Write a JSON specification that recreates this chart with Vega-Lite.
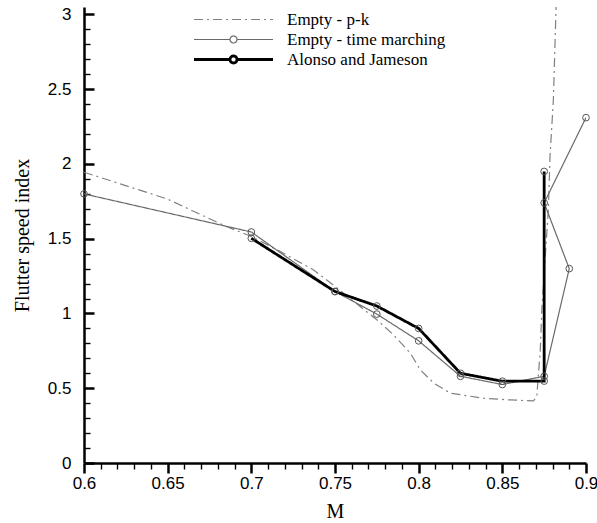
{
  "$schema": "https://vega.github.io/schema/vega-lite/v6.json",
  "autosize": {"type": "none"},
  "padding": {"left": 84, "top": 7, "right": 11, "bottom": 60},
  "width": 502,
  "height": 456,
  "background": "white",
  "config": {
    "view": {"stroke": null},
    "axis": {
      "domainColor": "black",
      "domainWidth": 2.5,
      "tickColor": "black",
      "labelFont": "Liberation Sans",
      "labelFontSize": 17,
      "labelColor": "black",
      "titleFont": "Liberation Serif",
      "titleFontSize": 20,
      "titleFontWeight": "normal",
      "titleColor": "black",
      "grid": false,
      "labelOverlap": false,
      "labelFlush": false,
      "format": "~g"
    }
  },
  "data": {
    "values": [
      {"s": "Empty - p-k", "i": 1, "M": 0.6, "v": 1.945},
      {"s": "Empty - p-k", "i": 2, "M": 0.65, "v": 1.765},
      {"s": "Empty - p-k", "i": 3, "M": 0.684, "v": 1.587},
      {"s": "Empty - p-k", "i": 4, "M": 0.7, "v": 1.515},
      {"s": "Empty - p-k", "i": 5, "M": 0.719, "v": 1.404},
      {"s": "Empty - p-k", "i": 6, "M": 0.737, "v": 1.293},
      {"s": "Empty - p-k", "i": 7, "M": 0.75, "v": 1.181},
      {"s": "Empty - p-k", "i": 8, "M": 0.765, "v": 1.047},
      {"s": "Empty - p-k", "i": 9, "M": 0.775, "v": 0.958},
      {"s": "Empty - p-k", "i": 10, "M": 0.785, "v": 0.857},
      {"s": "Empty - p-k", "i": 11, "M": 0.795, "v": 0.735},
      {"s": "Empty - p-k", "i": 12, "M": 0.801, "v": 0.623},
      {"s": "Empty - p-k", "i": 13, "M": 0.809, "v": 0.534},
      {"s": "Empty - p-k", "i": 14, "M": 0.819, "v": 0.467},
      {"s": "Empty - p-k", "i": 15, "M": 0.8387, "v": 0.433},
      {"s": "Empty - p-k", "i": 16, "M": 0.8546, "v": 0.422},
      {"s": "Empty - p-k", "i": 17, "M": 0.8686, "v": 0.415},
      {"s": "Empty - p-k", "i": 18, "M": 0.8706, "v": 0.444},
      {"s": "Empty - p-k", "i": 19, "M": 0.8716, "v": 0.6},
      {"s": "Empty - p-k", "i": 20, "M": 0.8726, "v": 0.735},
      {"s": "Empty - p-k", "i": 21, "M": 0.8736, "v": 1.025},
      {"s": "Empty - p-k", "i": 22, "M": 0.8775, "v": 1.695},
      {"s": "Empty - p-k", "i": 23, "M": 0.8785, "v": 2.05},
      {"s": "Empty - p-k", "i": 24, "M": 0.8805, "v": 2.43},
      {"s": "Empty - p-k", "i": 25, "M": 0.8822, "v": 3.08},
      {"s": "Empty - time marching", "i": 1, "M": 0.6, "v": 1.8},
      {"s": "Empty - time marching", "i": 2, "M": 0.7, "v": 1.545},
      {"s": "Empty - time marching", "i": 3, "M": 0.75, "v": 1.147},
      {"s": "Empty - time marching", "i": 4, "M": 0.775, "v": 0.996},
      {"s": "Empty - time marching", "i": 5, "M": 0.8, "v": 0.817},
      {"s": "Empty - time marching", "i": 6, "M": 0.825, "v": 0.58},
      {"s": "Empty - time marching", "i": 7, "M": 0.85, "v": 0.525},
      {"s": "Empty - time marching", "i": 8, "M": 0.875, "v": 0.58},
      {"s": "Empty - time marching", "i": 9, "M": 0.89, "v": 1.3},
      {"s": "Empty - time marching", "i": 10, "M": 0.875, "v": 1.74},
      {"s": "Empty - time marching", "i": 11, "M": 0.9, "v": 2.31},
      {"s": "Alonso and Jameson", "i": 1, "M": 0.7, "v": 1.503},
      {"s": "Alonso and Jameson", "i": 2, "M": 0.75, "v": 1.147},
      {"s": "Alonso and Jameson", "i": 3, "M": 0.775, "v": 1.05},
      {"s": "Alonso and Jameson", "i": 4, "M": 0.8, "v": 0.9},
      {"s": "Alonso and Jameson", "i": 5, "M": 0.825, "v": 0.6},
      {"s": "Alonso and Jameson", "i": 6, "M": 0.85, "v": 0.547},
      {"s": "Alonso and Jameson", "i": 7, "M": 0.875, "v": 0.548},
      {"s": "Alonso and Jameson", "i": 8, "M": 0.875, "v": 1.95}
    ]
  },
  "resolve": {"axis": {"x": "independent", "y": "independent"}},
  "layer": [
    {
      "mark": {"type": "point", "opacity": 0},
      "encoding": {
        "x": {
          "field": "M", "type": "quantitative",
          "scale": {"domain": [0.6, 0.9], "nice": false, "zero": false},
          "axis": {
            "orient": "bottom",
            "title": null,
            "domain": false,
            "labels": false,
            "ticks": true,
            "values": [0.61,0.62,0.63,0.64,0.66,0.67,0.68,0.69,0.71,0.72,0.73,0.74,0.76,0.77,0.78,0.79,0.81,0.82,0.83,0.84,0.86,0.87,0.88,0.89],
            "tickSize": 6,
            "tickWidth": 1.4
          }
        },
        "y": {
          "field": "v", "type": "quantitative",
          "scale": {"domain": [0, 3.05], "nice": false},
          "axis": {
            "orient": "left",
            "title": null,
            "domain": false,
            "labels": false,
            "ticks": true,
            "values": [0.1,0.2,0.3,0.4,0.6,0.7,0.8,0.9,1.1,1.2,1.3,1.4,1.6,1.7,1.8,1.9,2.1,2.2,2.3,2.4,2.6,2.7,2.8,2.9],
            "tickSize": -6,
            "tickWidth": 1.4
          }
        }
      }
    },
    {
      "mark": {"type": "point", "opacity": 0},
      "encoding": {
        "x": {
          "field": "M", "type": "quantitative",
          "scale": {"domain": [0.6, 0.9], "nice": false, "zero": false},
          "axis": {
            "orient": "bottom",
            "title": null,
            "domain": false,
            "labels": false,
            "ticks": true,
            "values": [0.6, 0.65, 0.7, 0.75, 0.8, 0.85, 0.9],
            "tickSize": 10,
            "tickWidth": 2.5
          }
        },
        "y": {
          "field": "v", "type": "quantitative",
          "scale": {"domain": [0, 3.05], "nice": false},
          "axis": null
        }
      }
    },
    {
      "encoding": {
        "x": {
          "field": "M", "type": "quantitative",
          "scale": {"domain": [0.6, 0.9], "nice": false, "zero": false},
          "axis": {
            "orient": "bottom",
            "title": "M",
            "ticks": false,
            "values": [0.6, 0.65, 0.7, 0.75, 0.8, 0.85, 0.9],
            "labelPadding": 12,
            "titlePadding": 10
          }
        },
        "y": {
          "field": "v", "type": "quantitative",
          "scale": {"domain": [0, 3.05], "nice": false},
          "axis": {
            "orient": "left",
            "title": "Flutter speed index",
            "ticks": true,
            "values": [0, 0.5, 1, 1.5, 2, 2.5, 3],
            "tickSize": -10,
            "tickWidth": 2.5,
            "labelPadding": 23,
            "titlePadding": 15
          }
        }
      },
      "layer": [
        {
          "mark": {"type": "line", "clip": true},
          "encoding": {
            "order": {"field": "i", "type": "quantitative"},
            "color": {
              "field": "s", "type": "nominal",
              "scale": {"domain": ["Empty - p-k", "Empty - time marching", "Alonso and Jameson"], "range": ["#808080", "#6a6a6a", "#000000"]},
              "legend": {
                "orient": "none",
                "legendX": 141,
                "legendY": 4,
                "title": null,
                "padding": 0,
                "labelFont": "Liberation Serif",
                "labelFontSize": 17,
                "labelColor": "black",
                "symbolSize": 100,
                "labelOffset": 45,
                "rowPadding": 2,
                "symbolFillColor": "white",
                "encode": {
                  "symbols": {
                    "update": {
                      "shape": {"signal": "datum.value === 'Empty - p-k' ? 'M-7.9,0L7.9,0' : 'M-7.9,0L-0.7,0M0.7,0L7.9,0M0.7,0A0.7,0.7,0,1,1,-0.7,0A0.7,0.7,0,1,1,0.7,0'"},
                      "strokeWidth": {"signal": "datum.value === 'Alonso and Jameson' ? 2.8 : 1.2"}
                    }
                  }
                }
              }
            },
            "strokeDash": {
              "field": "s", "type": "nominal",
              "scale": {"domain": ["Empty - p-k", "Empty - time marching", "Alonso and Jameson"], "range": [[9, 4, 2, 4], [1, 0], [1, 0]]}
            },
            "strokeWidth": {
              "condition": {"test": "datum.s === 'Alonso and Jameson'", "value": 2.8},
              "value": 1.2
            }
          }
        },
        {
          "transform": [{"filter": "datum.s !== 'Empty - p-k'"}],
          "mark": {"type": "point", "shape": "circle", "filled": false, "stroke": "#555555", "strokeWidth": 1, "size": 45, "opacity": 1}
        }
      ]
    }
  ]
}
